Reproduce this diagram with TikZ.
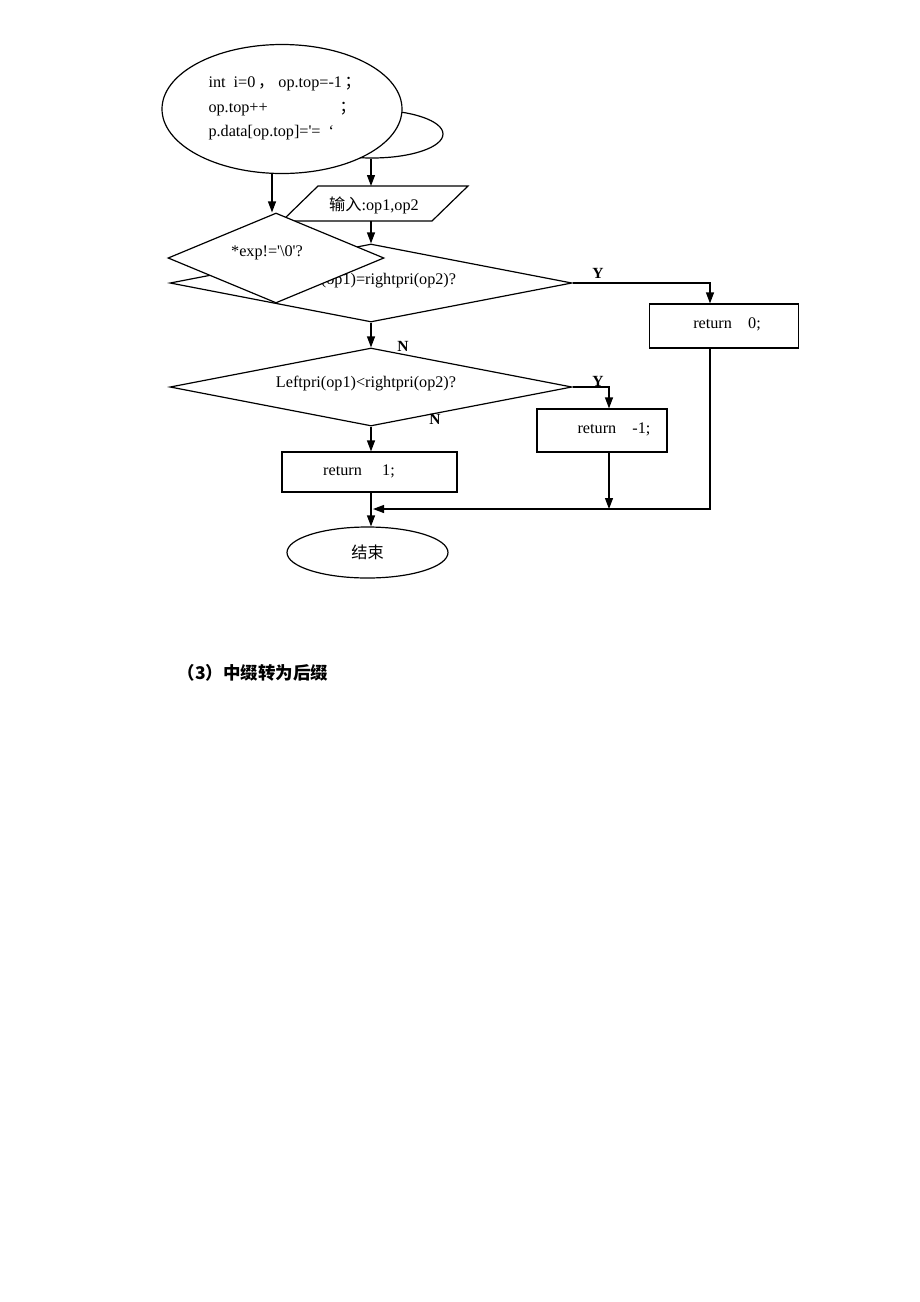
\documentclass[tikz,border=0pt]{standalone}
\usepackage{fontspec}
\setmainfont{Liberation Serif}
\newfontfamily\cjk{Noto Sans CJK SC}
\usetikzlibrary{shapes.geometric,arrows.meta}
\begin{document}
\begin{tikzpicture}[x=1pt,y=-1pt,
  every node/.style={font=\fontsize{16.2}{19}\selectfont},
  ln/.style={line width=1.2pt},
  arr/.style={ln,-{Triangle[length=11pt,width=8pt]}},
  ell/.style={draw,ln,ellipse,fill=white,inner sep=0pt},
  dia/.style={draw,ln,diamond,fill=white,inner sep=0pt,aspect=5},
  box/.style={draw,ln,rectangle,fill=white,inner sep=0pt},
  yn/.style={font=\fontsize{15.5}{18}\selectfont\bfseries}
]
\useasboundingbox (0,0) rectangle (920,1302);
\fill[white] (0,0) rectangle (920,1302);

% ellipses at top
\node[ell,minimum width=142pt,minimum height=48pt] (e2) at (372,134) {};
\node[ell,minimum width=240pt,minimum height=129pt] (e1) at (282,109) {};
\node[anchor=base west] (t1) at (205,87) {int\ \ i=0\,{\cjk ，}\ op.top=-1\,{\cjk ；}};
\node[anchor=base west] (t2) at (205,112) {op.top++};
\node[anchor=base west] (t2b) at (336,112) {{\cjk ；}};
\node[anchor=base west] (t3) at (205,136) {p.data[op.top]=\textquotesingle=\ \ ‘};

% input parallelogram
\coordinate (pt) at (371,186);
\coordinate (pb) at (371,221);
\draw[ln,fill=white] (318,186) -- (468,186) -- (432,221) -- (282,221) -- cycle;
\node (in) at (374,205) {{\cjk 输入}:op1,op2};

% big diamond (equal)
\node[dia,minimum width=402pt,minimum height=78pt] (d1) at (371,283) {};
\node (d1t) at (366,281) {Leftpri(op1)=rightpri(op2)?};
% small diamond on top
\node[dia,minimum width=216pt,minimum height=90pt] (d0) at (276,258) {};
\node (d0t) at (267,253) {*exp!=\textquotesingle\textbackslash0\textquotesingle?};

% second diamond
\node[dia,minimum width=402pt,minimum height=78pt] (d2) at (371,387) {};
\node (d2t) at (366,384) {Leftpri(op1)<rightpri(op2)?};

% boxes
\node[box,minimum width=149pt,minimum height=44pt] (r0) at (724,326) {};
\node (r0t) at (727,324) {return\ \ \ \ 0;};
\node[box,minimum width=130pt,minimum height=43pt] (r1) at (602,430.5) {};
\node (r1t) at (614,429) {return\ \ \ \ -1;};
\node[box,minimum width=175pt,minimum height=40pt] (r2) at (369.5,472) {};
\node (r2t) at (359,471) {return\ \ \ \ \ 1;};

% end ellipse
\node[ell,minimum width=161pt,minimum height=51pt] (end) at (367.5,552.5) {{\cjk 结束}};

% labels
\node[yn] (y1) at (598,273) {Y};
\node[yn] (n1) at (403,346) {N};
\node[yn] (y2) at (598,381) {Y};
\node[yn] (n2) at (435,419) {N};

% connectors
\draw[arr] ([xshift=-10pt]e1.south) -- ([xshift=-4pt]d0.north);
\draw[arr] (e2.south -| pt) -- (pt);
\draw[arr] (pb) -- (d1.north);
\coordinate (c0) at (710,283);
\draw[arr] (d1.east) -- (c0) -- (c0 |- r0.north);
\draw[arr] (d1.south) -- (d2.north);
\coordinate (c1) at (609,387);
\draw[arr] (d2.east) -- (c1) -- (c1 |- r1.north);
\draw[arr] (d2.south) -- (r2.north -| d2.south);
\coordinate (m) at (371,509);
\coordinate (c2) at (710,509);
\draw[arr] (c0 |- r0.south) -- (c2) -- ([xshift=2pt]m);
\draw[arr] (c1 |- r1.south) -- (c1 |- m);
\draw[arr] (r2.south -| m) -- (end.north -| m);

% heading
\node[anchor=base west,font=\fontsize{17.5}{20}\selectfont\cjk\bfseries] (h) at (174,679) {（3）中缀转为后缀};
\end{tikzpicture}
\end{document}
